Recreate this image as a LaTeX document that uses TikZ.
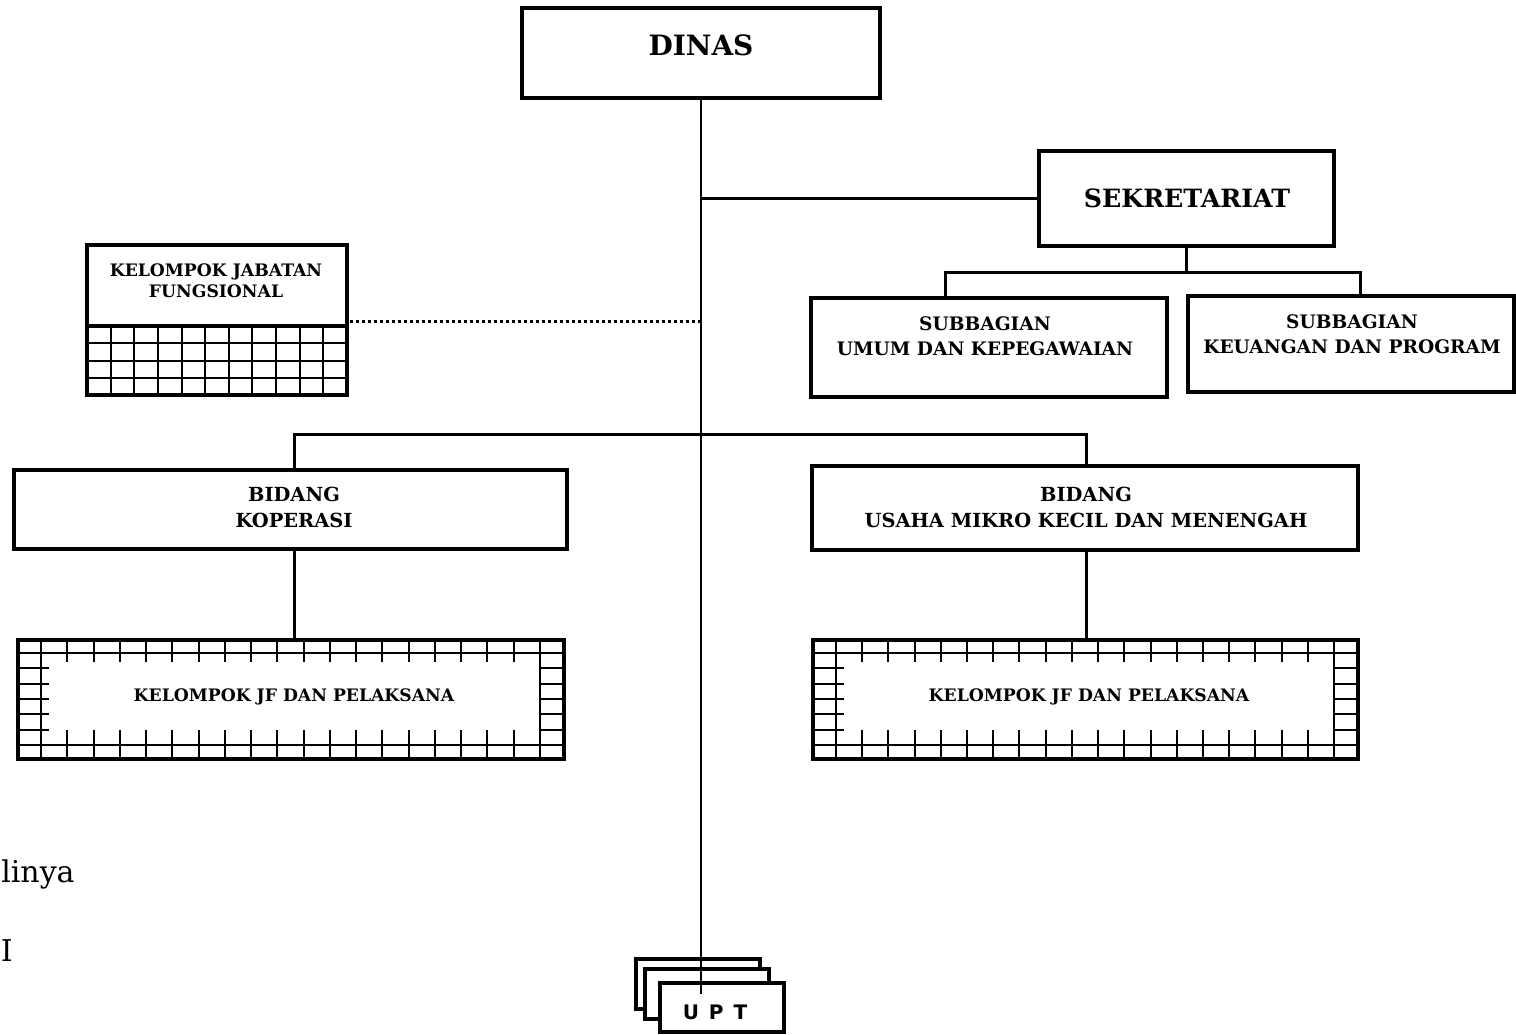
\documentclass[tikz,border=0pt]{standalone}
\usepackage{fontspec}
\setmainfont{DejaVu Serif}
\newfontfamily\uptfont{DejaVu Sans}[LetterSpace=15]
\newcommand{\JFpattern}[2]{%
  \pgfmathsetmacro{\jfa}{#1+23}%
  \pgfmathsetmacro{\jfb}{#2-24}%
  \pgfmathsetmacro{\jfs}{(\jfb-\jfa)/19}%
  \draw[gridln] (\jfa,640) -- (\jfa,759) (\jfb,640) -- (\jfb,759)
                (#1,653) -- (#2,653) ({#1-2},745) -- (#2,745);
  \foreach \k in {1,...,18}{%
    \draw[gridln] ({\jfa+\k*\jfs},640) -- ({\jfa+\k*\jfs},662)
                  ({\jfa+\k*\jfs},730) -- ({\jfa+\k*\jfs},759);}
  \foreach \k in {1,...,5}{%
    \draw[gridln] (#1,{653+\k*92/6}) -- ({#1+31},{653+\k*92/6})
                  (\jfb,{653+\k*92/6}) -- (#2,{653+\k*92/6});}
}
\begin{document}
\begin{tikzpicture}[x=0.5pt,y=-0.5pt,
  box/.style={draw,line width=2.2pt,inner sep=0pt,rectangle},
  uptbox/.style={draw,line width=1.6pt,fill=white,inner sep=0pt,minimum width=62pt,minimum height=25pt},
  txt/.style={inner sep=0pt,align=center,font=\bfseries\fontsize{9.3}{12.5}\selectfont},
  bidtxt/.style={inner sep=0pt,align=center,font=\bfseries\fontsize{9.7}{13}\selectfont},
  smalltxt/.style={inner sep=0pt,align=center,font=\bfseries\fontsize{8.6}{10.5}\selectfont},
  conn/.style={line width=1.5pt},
  vline/.style={line width=1.1pt},
  gridln/.style={line width=1pt},
  dots/.style={line width=1.5pt,dash pattern=on 1.5pt off 1.5pt}]
\useasboundingbox (0,0) rectangle (1516,1034);

% boxes
\node[box,minimum width=179pt,minimum height=45pt] (dinas) at (701,53) {};
\node[inner sep=0pt,font=\bfseries\fontsize{14}{17}\selectfont] (tdinas) at (701,45) {DINAS};

\node[box,minimum width=147.5pt,minimum height=47.5pt] (sek) at (1186.5,198.5) {};
\node[inner sep=0pt,font=\bfseries\fontsize{12.6}{16}\selectfont] (tsek) at (1187,198) {SEKRETARIAT};

\node[box,minimum width=178pt,minimum height=49.5pt] (sub1) at (989,347.5) {};
\node[txt] (tsub1) at (985,336) {SUBBAGIAN\\UMUM DAN KEPEGAWAIAN};

\node[box,minimum width=163pt,minimum height=48pt] (sub2) at (1351,344) {};
\node[txt] (tsub2) at (1352,334) {SUBBAGIAN\\KEUANGAN DAN PROGRAM};

\node[box,minimum width=130pt,minimum height=40.5pt] (kjf) at (217,285.5) {};
\node[smalltxt] (tkjf) at (216,281) {KELOMPOK JABATAN\\FUNGSIONAL};
\node[box,minimum width=130pt,minimum height=34.5pt] (kjfgrid) at (217,360.5) {};
\foreach \k in {1,...,10}{\draw[gridln] ({87+\k*260/11},326) -- ({87+\k*260/11},395);}
\foreach \k in {1,...,3}{\draw[gridln] (87,{326+\k*69/4}) -- (347,{326+\k*69/4});}
\node[box,minimum width=130pt,minimum height=34.5pt] at (217,360.5) {};

\node[box,minimum width=276.5pt,minimum height=39.5pt] (bid1) at (290.5,509.5) {};
\node[bidtxt] (tbid1) at (294,507) {BIDANG\\KOPERASI};

\node[box,minimum width=273pt,minimum height=42pt] (bid2) at (1085,508) {};
\node[bidtxt] (tbid2) at (1086,507) {BIDANG\\USAHA MIKRO KECIL DAN MENENGAH};

\JFpattern{18}{564}
\node[box,minimum width=273pt,minimum height=59.5pt] (jf1) at (291,699.5) {};
\node[smalltxt] (tjf1) at (294,697) {KELOMPOK JF DAN PELAKSANA};

\JFpattern{813}{1358}
\node[box,minimum width=272.5pt,minimum height=59.5pt] (jf2) at (1085.5,699.5) {};
\node[smalltxt] (tjf2) at (1089,697) {KELOMPOK JF DAN PELAKSANA};

\node[uptbox] (upt1) at (698,984) {};
\node[uptbox] (upt2) at (707,994) {};
\node[uptbox,minimum height=24.5pt] (upt3) at (722,1007.5) {};
\node[inner sep=0pt,font=\uptfont\bfseries\fontsize{10}{12}\selectfont] (tupt) at (715,1012) {U P T};

% partial texts at the left edge
\node[inner sep=0pt,anchor=base east,font=\fontsize{15}{18}\selectfont] (tl1) at (75,882) {linya};
\node[inner sep=0pt,anchor=base west,font=\fontsize{15}{18}\selectfont] (tl2) at (0.5,961) {I};

% connectors
\coordinate (vend) at (701,994);
\draw[vline] (dinas.south) -- (vend);
\draw[conn] (sek.west) -- (sek.west -| dinas.south);
\coordinate (s1) at (945,272);
\coordinate (s2) at (1360,272);
\draw[conn] (sek.south) -- (sek.south |- s1);
\draw[conn] (s1 |- sub1.north) -- (s1) -- (s2) -- (s2 |- sub2.north);
\coordinate (d1) at (350,321);
\draw[dots] (d1) -- (d1 -| dinas.south);
\coordinate (b1) at (294,434);
\coordinate (b2) at (1086,434);
\draw[conn] (b1 |- bid1.north) -- (b1) -- (b2) -- (b2 |- bid2.north);
\draw[conn] (b1 |- bid1.south) -- (b1 |- jf1.north);
\draw[conn] (b2 |- bid2.south) -- (b2 |- jf2.north);
\end{tikzpicture}
\end{document}
